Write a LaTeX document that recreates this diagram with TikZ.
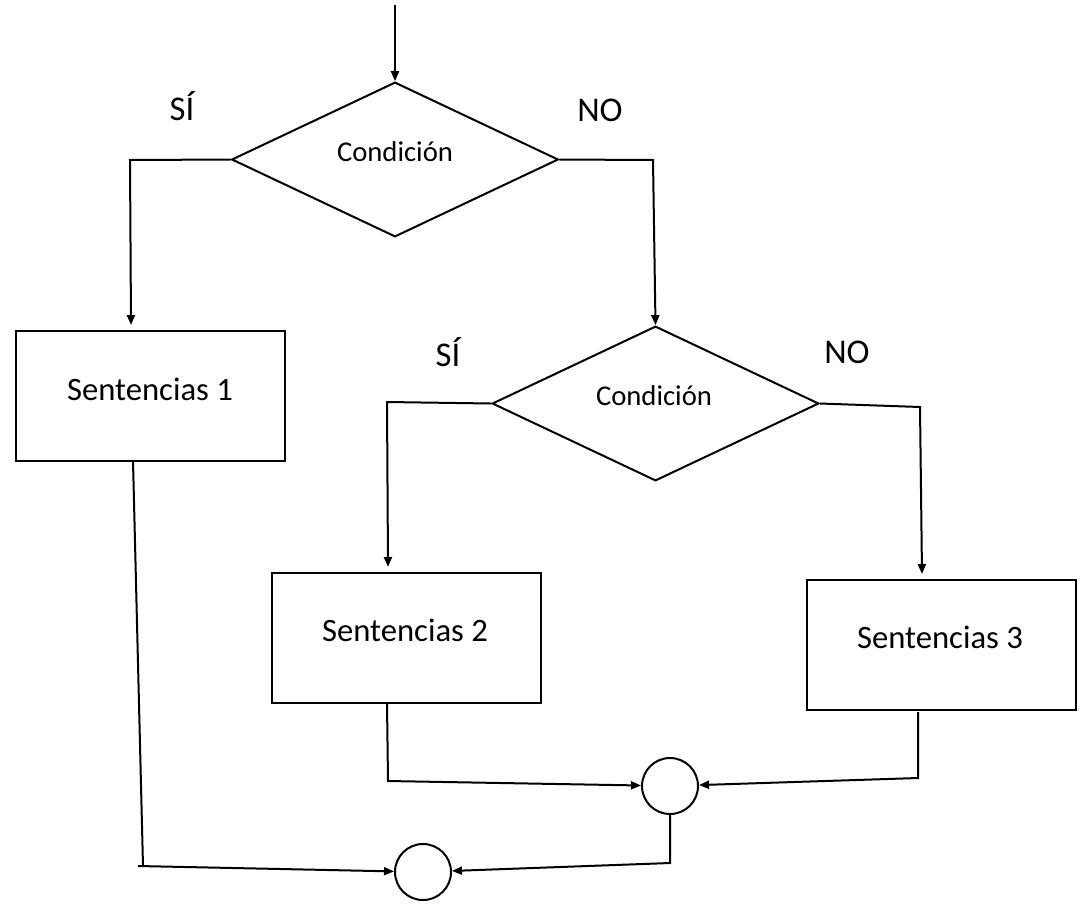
\documentclass[tikz,border=0pt]{standalone}
\usepackage{fontspec}
\setmainfont{Carlito}
\usetikzlibrary{shapes.geometric,arrows.meta}
\begin{document}
\begin{tikzpicture}[x=0.75pt,y=-0.75pt,line width=1.5pt,
  arr/.style={-{Triangle[length=7.5pt,width=6pt]}},
  decision/.style={diamond,draw,inner sep=0pt,minimum width=245pt,minimum height=116pt},
  stmt/.style={rectangle,draw,inner sep=0pt,minimum width=202pt,minimum height=97.5pt},
  joint/.style={circle,draw,inner sep=0pt,minimum size=42pt},
  branch/.style={font=\fontsize{26pt}{28pt}\selectfont},
  condtext/.style={font=\fontsize{21.5pt}{24pt}\selectfont},
  stmttext/.style={font=\fontsize{24.5pt}{27pt}\selectfont}]
\useasboundingbox (0,0) rectangle (1091,911);

% shapes
\node[decision] (d1) at (395,159.5) {};
\node[decision] (d2) at (655.5,403.5) {};
\node[stmt] (b1) at (150.5,396) {};
\node[stmt] (b2) at (406.5,638) {};
\node[stmt] (b3) at (941.5,645) {};
\node[joint] (j1) at (670,786) {};
\node[joint] (j2) at (423,872) {};

% texts
\node[condtext] (t1) at (395,152) {Condición};
\node[condtext] (t2) at (654,396) {Condición};
\node[stmttext] (s1) at (150,389) {Sentencias 1};
\node[stmttext] (s2) at (405,630) {Sentencias 2};
\node[stmttext] (s3) at (940,637) {Sentencias 3};
\node[branch] (y1) at (182,106) {SÍ};
\node[branch] (n1) at (600,110) {NO};
\node[branch] (y2) at (448,352) {SÍ};
\node[branch] (n2) at (847,352) {NO};

% routing points
\coordinate (in) at (395,5);
\coordinate (a1) at (130,160);
\coordinate (a2) at (131,325);
\coordinate (a3) at (653,160);
\coordinate (c1) at (387,402);
\coordinate (c2) at (388,567);
\coordinate (c3) at (920,407);
\coordinate (c4) at (922,574);
\coordinate (e1) at (133,461);
\coordinate (e2) at (143,866);
\coordinate (e3) at (138,866);
\coordinate (f1) at (387,703);
\coordinate (f2) at (388,781);
\coordinate (g1) at (918,712);
\coordinate (g2) at (918,778);
\coordinate (h1) at (670,813);
\coordinate (h2) at (670,863);

% connectors
\draw[arr] (in) -- (d1.north);
\draw[arr] (d1.west) -- (a1) -- (a2);
\draw[arr] (d1.east) -- (a3) -- (d2.north);
\draw[arr] (d2.west) -- (c1) -- (c2);
\draw[arr] (d2.east) -- (c3) -- (c4);
\draw (e1) -- (e2);
\draw[arr] (e3) -- (j2);
\draw[arr] (f1) -- (f2) -- (j1);
\draw[arr] (g1) -- (g2) -- (j1);
\draw[arr] (h1) -- (h2) -- (j2);
\end{tikzpicture}
\end{document}
